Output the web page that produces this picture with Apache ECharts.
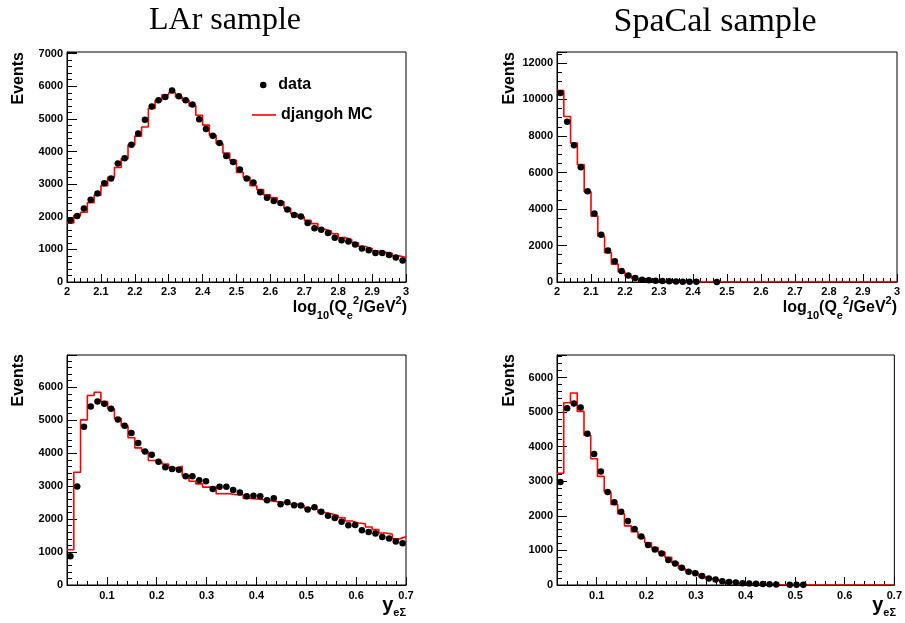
<!DOCTYPE html>
<html>
<head>
<meta charset="utf-8">
<script src="https://cdn.jsdelivr.net/npm/echarts@6/dist/echarts.min.js"></script>
<style>html,body{margin:0;padding:0;background:#fff;}#c{width:905px;height:623px;}</style>
</head>
<body>
<div id="c"></div>
<script>
// ---- binning ----
const q2Range = [2, 3];
const yRange = [0.02, 0.7];
const nBins = 50;

// ---- LAr sample, log10(Q2) ----
const larQ2Data = [1890,2020,2250,2520,2710,3030,3170,3630,3790,4210,
  4550,4970,5380,5570,5670,5870,5690,5570,5440,4990,
  4690,4480,4260,3860,3680,3450,3170,3050,2750,2580,
  2480,2420,2220,2050,2010,1810,1650,1600,1500,1360,
  1280,1240,1150,1030,970,890,890,830,750,660];
const larQ2MC = [1810,2040,2140,2430,2660,2950,3210,3510,3780,4200,
  4470,4750,5320,5570,5740,5810,5670,5570,5400,5110,
  4810,4500,4240,3950,3730,3360,3210,2950,2830,2670,
  2580,2460,2260,2090,1990,1890,1790,1620,1560,1480,
  1360,1300,1200,1090,1030,950,910,870,800,750];

// ---- SpaCal sample, log10(Q2) ----
const spaQ2Data = [10350,8780,7490,6280,4970,3750,2590,1730,1130,600,
  360,220,130,90,70,50,35,25,20,15,
  10,null,null,5,null,null,null,null,null,null,
  null,null,null,null,null,null,null,null,null,null,
  null,null,null,null,null,null,null,null,null,null];
const spaQ2MC = [10490,9070,7610,6430,4940,3610,2510,1600,980,560,
  330,180,110,70,40,25,15,10,6,4,
  2,1,1,1,0,0,0,0,0,0,
  0,0,0,0,0,0,0,0,0,0,
  0,0,0,0,0,0,0,0,0,0];

// ---- LAr sample, y_eSigma ----
const larYData = [870,2990,4800,5420,5570,5500,5350,5020,4830,4610,
  4310,4050,3950,3740,3570,3520,3500,3300,3300,3180,
  3150,2910,2980,2980,2880,2810,2690,2710,2690,2570,
  2630,2450,2510,2420,2410,2290,2360,2220,2100,2030,
  1920,1810,1820,1660,1610,1560,1460,1410,1320,1270];
const larYMC = [1070,3420,5010,5750,5850,5570,5340,5050,4830,4470,
  4160,4050,3780,3740,3670,3550,3600,3320,3150,3070,
  2970,2970,2770,2770,2740,2740,2630,2610,2590,2560,
  2530,2510,2450,2450,2410,2330,2290,2200,2160,2110,
  2040,1940,1880,1860,1760,1680,1580,1540,1400,1460];

// ---- SpaCal sample, y_eSigma ----
const spaYData = [2980,5110,5250,5130,4370,3790,3280,2690,2390,2120,
  1850,1620,1400,1160,1030,910,720,620,500,380,
  340,260,190,160,110,90,70,50,40,35,
  30,20,15,null,8,5,5,null,null,null,
  null,null,null,null,null,null,null,null,null,null];
const spaYMC = [3230,5270,5550,5020,4330,3650,3140,2690,2330,2060,
  1710,1540,1370,1220,1080,950,800,650,480,410,
  340,240,180,140,100,80,60,45,35,25,
  20,15,10,8,5,3,2,2,1,1,
  0,0,0,0,0,0,0,0,0,0];

// ---- axis ranges ----
const yMaxLArQ2 = 7050, yMaxSpaQ2 = 12600, yMaxLArY = 6980, yMaxSpaY = 6650;

// ---- helpers building library data from the arrays ----
function binWidth(r){ return (r[1]-r[0])/nBins; }
function stepData(vals, r){
  const w = binWidth(r), out = [];
  vals.forEach((v,i)=>out.push([r[0]+i*w, v]));
  out.push([r[1], vals[vals.length-1]]);
  return out;
}
function pointData(vals, r){
  const w = binWidth(r), out = [];
  vals.forEach((v,i)=>{ if(v!==null) out.push([r[0]+(i+0.5)*w, v, w/2]); });
  return out;
}

const FONT = 'Liberation Sans, Arial, Helvetica, sans-serif';
const lblStyle = {color:'#000', fontFamily:FONT, fontWeight:'bold', fontSize:11};

function yAxisCfg(gi, max, interval, minorSplit){
  return {
    type:'value', gridIndex:gi, min:0, max:max, interval:interval,
    axisLine:{show:true, lineStyle:{color:'#000', width:1}},
    axisTick:{show:true, inside:true, length:10, lineStyle:{color:'#000'}},
    minorTick:{show:true, splitNumber:minorSplit, length:5, lineStyle:{color:'#000'}},
    splitLine:{show:false}, minorSplitLine:{show:false},
    axisLabel:Object.assign({margin:4, formatter:v=> (v % interval === 0) ? String(v) : ''}, lblStyle)
  };
}
function xAxisQ2(gi){
  return {
    type:'value', gridIndex:gi, min:q2Range[0], max:q2Range[1], interval:0.1,
    axisLine:{show:true, onZero:false, lineStyle:{color:'#000'}},
    axisTick:{show:true, inside:true, length:8, lineStyle:{color:'#000'}},
    minorTick:{show:true, splitNumber:5, length:4, lineStyle:{color:'#000'}},
    splitLine:{show:false},
    axisLabel:Object.assign({margin:4, formatter:v=>String(+v.toFixed(1))}, lblStyle)
  };
}
function xAxisYMinor(gi){
  return {
    type:'value', gridIndex:gi, min:yRange[0], max:yRange[1], interval:0.02, position:'bottom',
    axisLine:{show:true, onZero:false, lineStyle:{color:'#000'}},
    axisTick:{show:true, inside:true, length:4, lineStyle:{color:'#000'}},
    splitLine:{show:false},
    axisLabel:Object.assign({margin:5, formatter:v=>{
      const t = v*10; return Math.abs(t-Math.round(t))<1e-6 ? (+v.toFixed(1)).toFixed(1) : '';
    }}, lblStyle)
  };
}
function xAxisYMajor(gi){
  return {
    type:'value', gridIndex:gi, min:yRange[0], max:yRange[1], splitNumber:7, position:'bottom',
    axisLine:{show:false, onZero:false},
    axisTick:{show:true, inside:true, length:8, lineStyle:{color:'#000'}},
    splitLine:{show:false}, axisLabel:{show:false}
  };
}

function errRender(params, api){
  const a = api.coord([api.value(0)-api.value(2), api.value(1)]);
  const b = api.coord([api.value(0)+api.value(2), api.value(1)]);
  return {type:'line', shape:{x1:a[0], y1:a[1], x2:b[0], y2:b[1]}, style:{stroke:'#8a8a8a', lineWidth:1}};
}
function panelSeries(xi, yi, dataVals, mcVals, r){
  return [
    {type:'custom', name:'err', xAxisIndex:xi, yAxisIndex:yi, renderItem:errRender,
     data:pointData(dataVals, r), z:1, silent:true},
    {type:'line', name:'djangoh MC', xAxisIndex:xi, yAxisIndex:yi, step:'end', showSymbol:false, symbol:'none',
     data:stepData(mcVals, r), lineStyle:{color:'#ff0000', width:1.6}, itemStyle:{color:'#ff0000'}, z:3},
    {type:'scatter', name:'data', xAxisIndex:xi, yAxisIndex:yi, symbol:'circle', symbolSize:6.5,
     data:pointData(dataVals, r), itemStyle:{color:'#000', opacity:1}, z:4}
  ];
}

const grids = [
  {left:67, top:52, width:339, height:230},
  {left:557, top:52, width:340, height:230},
  {left:67, top:355, width:339, height:230},
  {left:557, top:355, width:340, height:230}
].map(g=>Object.assign({show:true, borderColor:'#000', borderWidth:1, backgroundColor:'transparent', containLabel:false}, g));

const titleFont = {fontFamily:'Liberation Serif, Times New Roman, serif', fontWeight:'normal', fontSize:32, color:'#000'};
const axTitleFont = 'bold 16px ' + FONT;

function eventsText(x, y){
  return {type:'text', x:x, y:y, rotation:Math.PI/2,
    style:{text:'Events', font:axTitleFont, fill:'#000', align:'right', verticalAlign:'middle'}};
}
function q2Title(x, y){
  return {type:'text', x:x, y:y,
    style:{text:'{m|log}{s|10}{m|(Q}{s|e}{p|2}{m|/GeV}{p|2}{m|)}', align:'right', verticalAlign:'middle',
      rich:{
        m:{font:'bold 16px '+FONT, fill:'#000', lineHeight:26},
        s:{font:'bold 11px '+FONT, fill:'#000', verticalAlign:'bottom', lineHeight:11},
        p:{font:'bold 11px '+FONT, fill:'#000', verticalAlign:'top', lineHeight:12}
      }}};
}
function yTitle(x, y){
  return {type:'text', x:x, y:y,
    style:{text:'{b|y}{s|eΣ}', align:'right', verticalAlign:'middle',
      rich:{
        b:{font:'bold 20px '+FONT, fill:'#000', lineHeight:26},
        s:{font:'bold 11px '+FONT, fill:'#000', verticalAlign:'bottom', lineHeight:11}
      }}};
}

const legendText = {color:'#000', fontFamily:FONT, fontWeight:'bold', fontSize:16};
const option = {
  animation:false,
  backgroundColor:'#fff',
  title:[
    {text:'LAr sample', left:220, top:0, textAlign:'center', textStyle:titleFont},
    {text:'SpaCal sample', left:710, top:0, textAlign:'center', textStyle:Object.assign({}, titleFont, {fontSize:34})}
  ],
  legend:[
    {data:[{name:'data', icon:'circle'}], left:260, top:77, padding:0, itemWidth:20, itemHeight:6.5, selectedMode:false,
     textStyle:legendText},
    {data:[{name:'djangoh MC', icon:'rect'}], left:252, top:107, padding:0, itemWidth:24, itemHeight:1.6, selectedMode:false,
     textStyle:legendText}
  ],
  grid:grids,
  xAxis:[xAxisQ2(0), xAxisQ2(1), xAxisYMinor(2), xAxisYMinor(3), xAxisYMajor(2), xAxisYMajor(3)],
  yAxis:[yAxisCfg(0, yMaxLArQ2, 1000, 5), yAxisCfg(1, yMaxSpaQ2, 2000, 4), yAxisCfg(2, yMaxLArY, 1000, 5), yAxisCfg(3, yMaxSpaY, 1000, 5)],
  series:[].concat(
    panelSeries(0, 0, larQ2Data, larQ2MC, q2Range),
    panelSeries(1, 1, spaQ2Data, spaQ2MC, q2Range),
    panelSeries(2, 2, larYData, larYMC, yRange),
    panelSeries(3, 3, spaYData, spaYMC, yRange)
  ),
  graphic:[
    eventsText(19, 52), eventsText(510, 52), eventsText(19, 354), eventsText(510, 354),
    q2Title(407, 308), q2Title(897, 308),
    yTitle(406, 605), yTitle(896, 605)
  ]
};
const chart = echarts.init(document.getElementById('c'), null, {renderer:'canvas'});
chart.setOption(option);
</script>
</body>
</html>
